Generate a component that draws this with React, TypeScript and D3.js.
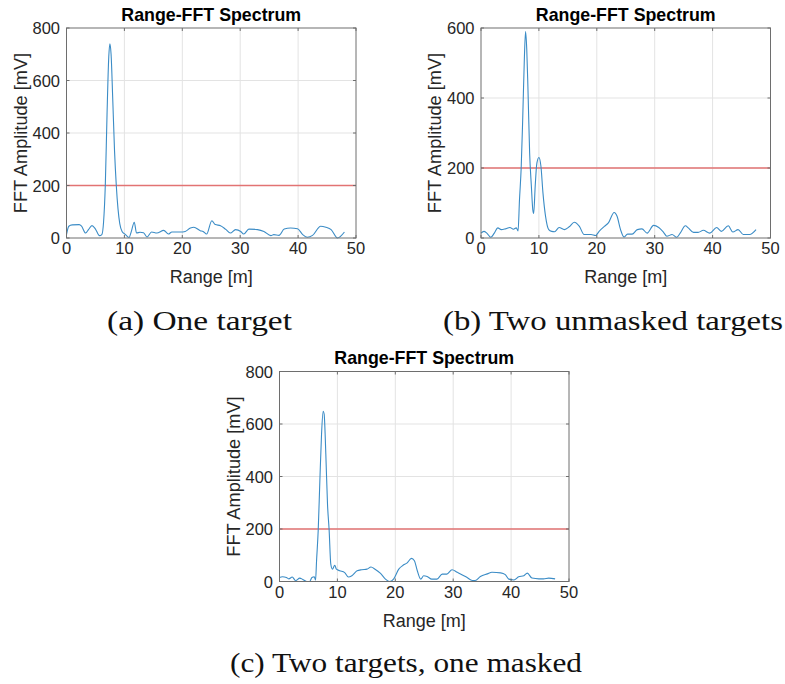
import React from 'react';
import * as d3 from 'd3';

// ---- data ----
const rangeA = [0, 0.4, 1.0, 2.2, 2.6, 3.3, 3.8, 4.4, 5.0, 5.7, 6.1, 6.4, 6.7, 7.0, 7.3, 7.5, 7.7, 8.0, 8.3, 8.6, 8.9, 9.2, 9.6, 10.1, 10.8, 11.2, 11.7, 12.1, 12.7, 13.3, 13.9, 14.7, 15.6, 16.8, 17.6, 18.2, 19.7, 20.5, 21.4, 22.0, 23.1, 23.6, 24.2, 25.1, 25.7, 26.6, 27.5, 28.3, 29.2, 30.1, 30.6, 31.5, 33.0, 34.1, 35.3, 35.8, 36.7, 37.6, 38.7, 39.9, 40.8, 41.6, 42.5, 43.9, 44.8, 45.7, 46.8, 48.0];
const ampA = [13, 45, 50, 51, 45, 19, 32, 47, 34, 9, 13, 60, 200, 470, 690, 740, 700, 520, 330, 200, 110, 55, 25, 15, 2, 25, 60, 19, 22, 20, 4, 23, 19, 29, 15, 23, 23, 25, 38, 41, 28, 25, 15, 66, 51, 47, 33, 19, 32, 25, 15, 34, 32, 25, 9, 13, 10, 34, 38, 35, 13, 3, 10, 45, 41, 32, 0, 23];

const rangeB = [0, 0.5, 1.0, 1.7, 2.3, 2.9, 3.5, 4.2, 5.0, 5.6, 6.1, 6.4, 6.65, 6.94, 7.2, 7.5, 7.7, 7.9, 8.1, 8.4, 8.7, 8.95, 9.1, 9.36, 9.65, 10.0, 10.35, 10.7, 11.15, 11.7, 12.2, 12.7, 13.5, 14.4, 15.3, 16.1, 17.0, 17.8, 19.0, 19.8, 20.4, 21.3, 22.0, 23.0, 23.5, 24.1, 24.7, 25.3, 26.1, 27.0, 27.8, 28.7, 29.8, 30.7, 31.5, 32.1, 33.0, 33.8, 34.4, 35.3, 35.8, 36.7, 37.5, 38.4, 39.5, 40.7, 41.5, 42.7, 43.5, 44.4, 45.3, 46.4, 47.5];
const ampB = [14, 19, 14, 2, 14, 29, 24, 26, 30, 25, 29, 20, 110, 200, 338, 519, 590, 540, 433, 243, 148, 80, 70, 148, 214, 230, 205, 129, 62, 24, 19, 18, 30, 24, 33, 45, 33, 10, 10, 7, 19, 33, 43, 73, 62, 24, 3, 11, 11, 24, 26, 14, 36, 30, 17, 5, 10, 2, 14, 35, 29, 16, 16, 22, 14, 30, 19, 35, 17, 24, 10, 10, 24];

const rangeC = [0, 0.5, 1.2, 1.6, 2.2, 2.8, 3.5, 4.0, 4.7, 5.2, 5.6, 6.0, 6.23, 6.4, 6.69, 6.97, 7.26, 7.54, 7.71, 8.0, 8.29, 8.57, 8.86, 9.14, 9.54, 9.83, 10.4, 11.26, 11.9, 12.5, 13.4, 14.2, 15.1, 15.8, 16.5, 17.4, 18.3, 19.0, 19.7, 20.6, 21.3, 22.0, 22.8, 23.3, 23.8, 24.4, 24.9, 25.5, 26.3, 27.2, 28.1, 28.9, 29.8, 30.7, 31.5, 32.4, 33.3, 33.8, 34.7, 35.9, 36.7, 38.2, 39.0, 39.6, 40.5, 41.3, 42.2, 42.8, 43.6, 44.8, 45.6, 46.5, 47.6];
const ampC = [15, 18, 15, 10, 17, 3, 13, 8, 0, 0, 15, 18, 5, 79, 197, 383, 561, 648, 638, 486, 295, 197, 66, 47, 62, 47, 41, 34, 17, 22, 41, 45, 47, 55, 47, 32, 9, 0, 9, 47, 61, 70, 88, 79, 41, 9, 22, 19, 9, 9, 28, 28, 45, 35, 26, 15, 4, 4, 19, 29, 35, 33, 26, 9, 6, 18, 22, 32, 13, 10, 10, 13, 10];

const xTicks = [0, 10, 20, 30, 40, 50];
const yTicksA = [0, 200, 400, 600, 800];
const yTicksB = [0, 200, 400, 600];
const yTicksC = [0, 200, 400, 600, 800];
const thresholdMv = 200;

const titleText = 'Range-FFT Spectrum';
const xLabelText = 'Range [m]';
const yLabelText = 'FFT Amplitude [mV]';
const captionA = '(a) One target';
const captionB = '(b) Two unmasked targets';
const captionC = '(c) Two targets, one masked';

const SANS = '"Liberation Sans", Arial, Helvetica, sans-serif';
const SERIF = '"Liberation Serif", "Times New Roman", serif';

type PanelProps = {
  left: number;
  top: number;
  ranges: number[];
  amps: number[];
  yTicks: number[];
};

function Panel({ left, top, ranges, amps, yTicks }: PanelProps) {
  const W = 289.5;
  const H = 210;
  const x = d3.scaleLinear().domain([0, 50]).range([0, W]);
  const y = d3.scaleLinear().domain([0, yTicks[yTicks.length - 1]]).range([H, 0]);
  const pts: [number, number][] = ranges.map((r, i) => [r, amps[i]]);
  const line = d3
    .line<[number, number]>()
    .x((d) => x(d[0]))
    .y((d) => y(d[1]))
    .curve(d3.curveMonotoneX);
  const boxColor = '#6e6e6e';
  const gridColor = '#e3e3e3';
  const tickLen = 3;
  const yT = y(thresholdMv);
  return (
    <g transform={`translate(${left},${top})`}>
      <rect x={0} y={0} width={W} height={H} fill="#fff" />
      {xTicks.slice(1, -1).map((t) => (
        <line key={'gx' + t} x1={x(t)} x2={x(t)} y1={0} y2={H} stroke={gridColor} strokeWidth={1} />
      ))}
      {yTicks.slice(1, -1).map((t) => (
        <line key={'gy' + t} x1={0} x2={W} y1={y(t)} y2={y(t)} stroke={gridColor} strokeWidth={1} />
      ))}
      <path d={`M0,${yT}H${W}`} fill="none" stroke="#e27373" strokeWidth={1.7} />
      <path d={line(pts) || ''} fill="none" stroke="#3b8cc6" strokeWidth={1.1} />
      <rect x={0} y={0} width={W} height={H} fill="none" stroke={boxColor} strokeWidth={1} />
      {xTicks.map((t) => (
        <g key={'tx' + t}>
          <line x1={x(t)} x2={x(t)} y1={H} y2={H - tickLen} stroke={boxColor} />
          <line x1={x(t)} x2={x(t)} y1={0} y2={tickLen} stroke={boxColor} />
          <text x={x(t)} y={H + 16} textAnchor="middle" fontFamily={SANS} fontSize={16.5} fill="#262626">
            {t}
          </text>
        </g>
      ))}
      {yTicks.map((t) => (
        <g key={'ty' + t}>
          <line x1={0} x2={tickLen} y1={y(t)} y2={y(t)} stroke={boxColor} />
          <line x1={W} x2={W - tickLen} y1={y(t)} y2={y(t)} stroke={boxColor} />
          <text x={-6.5} y={y(t) + 6} textAnchor="end" fontFamily={SANS} fontSize={16.5} fill="#262626">
            {t}
          </text>
        </g>
      ))}
      <text x={W / 2} y={-7.5} textAnchor="middle" fontFamily={SANS} fontSize={17.8} fontWeight="bold" fill="#000">
        {titleText}
      </text>
      <text x={W / 2} y={H + 45} textAnchor="middle" fontFamily={SANS} fontSize={18} fill="#262626">
        {xLabelText}
      </text>
      <text
        transform={`translate(${-40},${H / 2}) rotate(-90)`}
        textAnchor="middle"
        fontFamily={SANS}
        fontSize={18.2}
        fill="#262626"
      >
        {yLabelText}
      </text>
    </g>
  );
}

function Caption({ text, cx, y, w }: { text: string; cx: number; y: number; w: number }) {
  return (
    <text
      x={cx}
      y={y}
      textAnchor="middle"
      fontFamily={SERIF}
      fontSize={28}
      fill="#111"
      textLength={w}
      lengthAdjust="spacingAndGlyphs"
    >
      {text}
    </text>
  );
}

export default function App() {
  return (
    <svg
      width={785}
      height={684}
      viewBox="0 0 785 684"
      style={{ position: 'absolute', left: 0, top: 0, display: 'block', background: '#fff' }}
    >
      <rect width={785} height={684} fill="#fff" />
      <Panel left={66.5} top={28} ranges={rangeA} amps={ampA} yTicks={yTicksA} />
      <Panel left={481} top={28} ranges={rangeB} amps={ampB} yTicks={yTicksB} />
      <Panel left={279.5} top={371.5} ranges={rangeC} amps={ampC} yTicks={yTicksC} />
      <Caption text={captionA} cx={199.5} y={329.5} w={185} />
      <Caption text={captionB} cx={613} y={330} w={340} />
      <Caption text={captionC} cx={406} y={671.5} w={352} />
    </svg>
  );
}
